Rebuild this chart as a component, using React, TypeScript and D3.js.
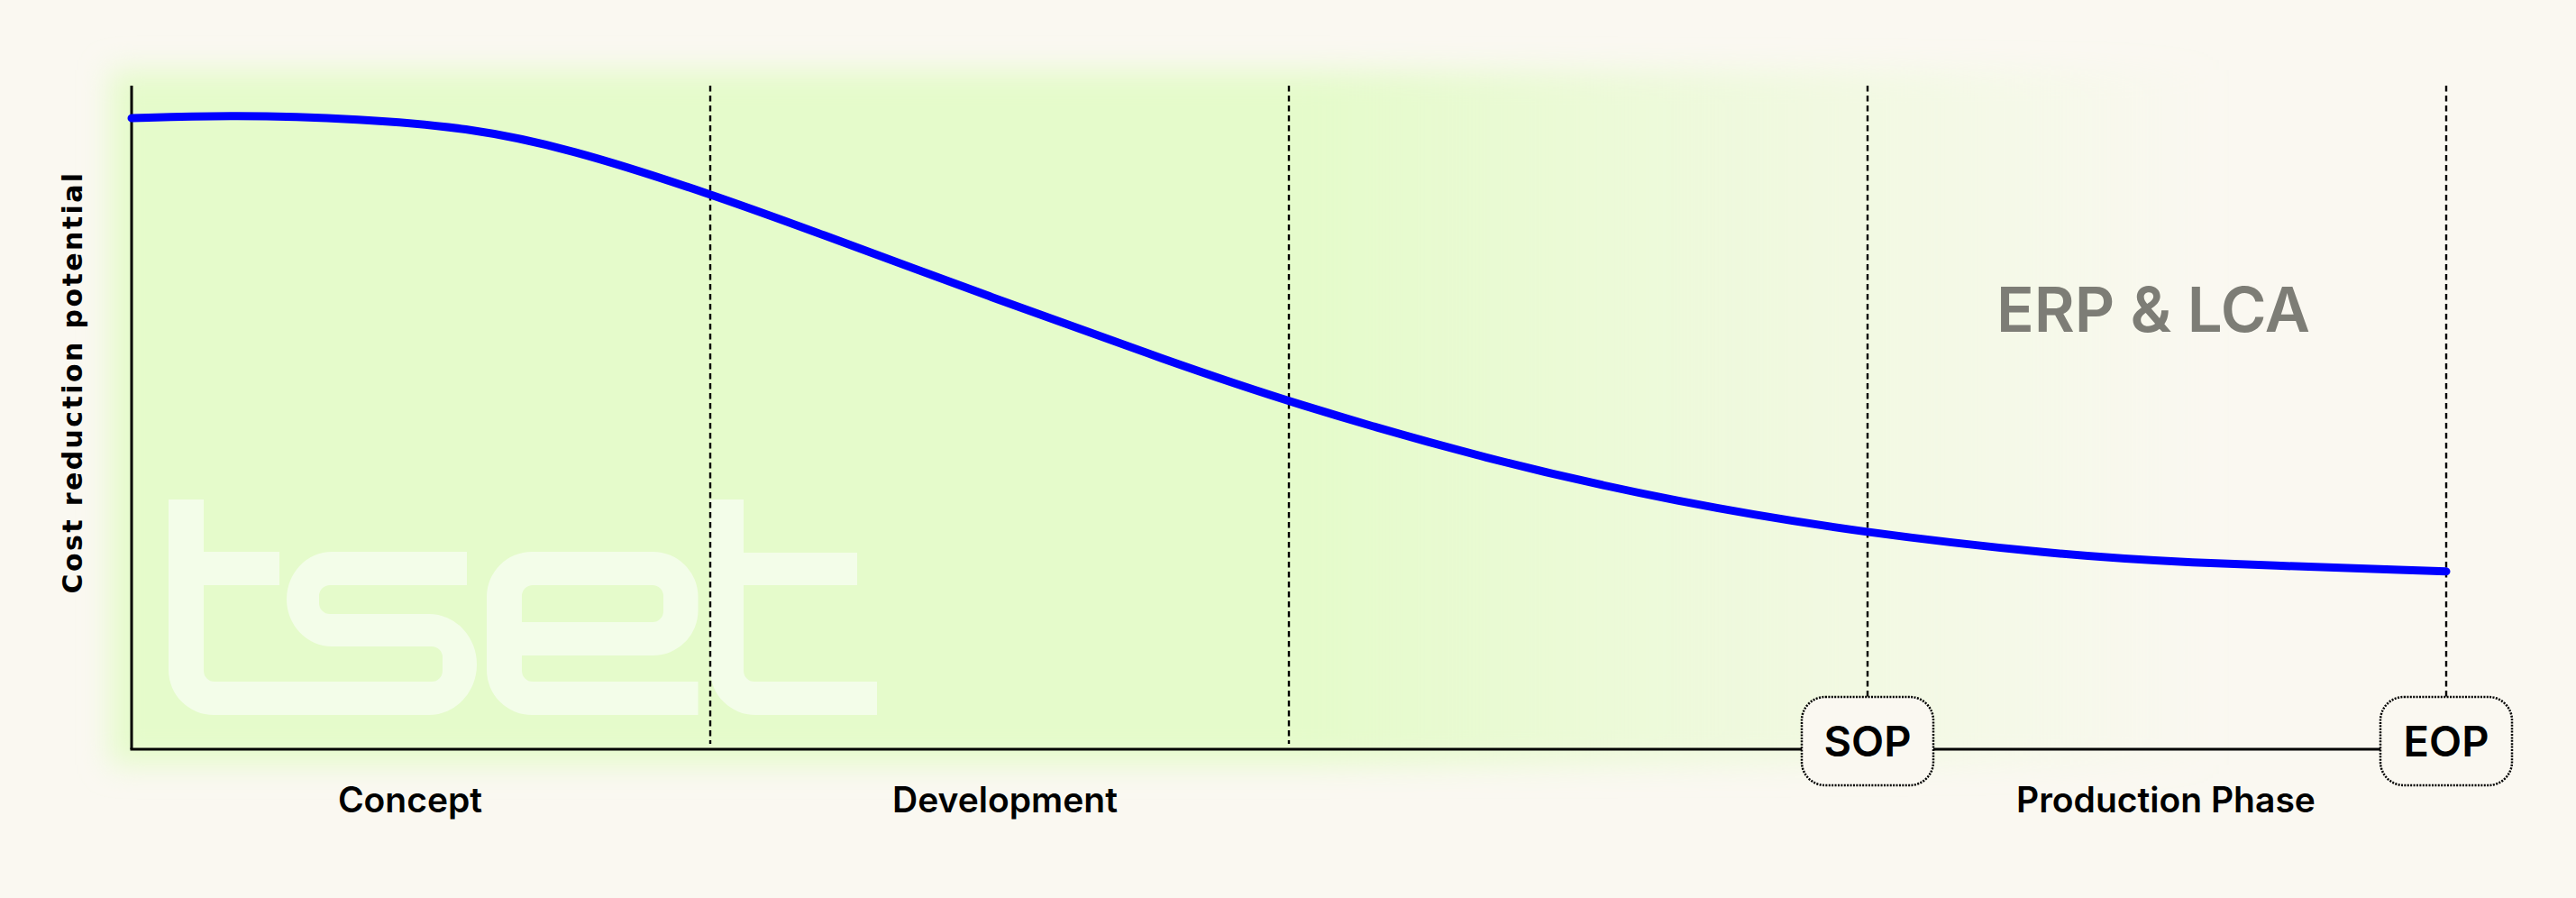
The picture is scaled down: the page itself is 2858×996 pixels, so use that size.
import * as d3 from "d3"

// stage boundaries along the x axis (0 = start of concept, 4 = end of production)
const phaseNames = ["Concept", "Development", "Production Phase"]
const phaseStart = [0, 1, 3]
const phaseNudge = [-12, 6, 10]
const milestoneAt = [1, 2, 3, 4]
const milestoneLabels = ["", "", "SOP", "EOP"]

// cost reduction potential curve (0..100 of the y axis)
const curveX = [0, 0.174, 0.399, 0.578, 0.755, 1.0, 1.174, 1.486, 1.798, 2.0, 2.344, 2.671, 3.0, 3.327, 3.511, 4.0]
const curveY = [95.1, 95.6, 95.0, 93.7, 90.6, 83.7, 78.2, 68.1, 58.3, 52.3, 43.6, 37.2, 32.5, 29.4, 28.2, 26.8]

const W = 2858
const H = 996
const FONT = "Inter, 'Noto Sans', sans-serif"
const BG = "#faf8f1"
const GREEN = "#e5fbcb"

const App = () => {
  const x = d3.scaleLinear().domain([0, 4]).range([146, 2714])
  const y = d3.scaleLinear().domain([0, 100]).range([831, 95])

  const pts = curveX.map((d, i) => ({ x: d, y: curveY[i] }))
  const line = d3
    .line<{ x: number; y: number }>()
    .x((d) => x(d.x))
    .y((d) => y(d.y))
    .curve(d3.curveBasis)

  const boxW = 146
  const boxH = 98
  const boxCy = 822

  return (
    <svg
      width={W}
      height={H}
      style={{ position: "absolute", left: 0, top: 0, display: "block" }}
    >
      <defs>
        <linearGradient id="glow" x1="0" x2="1" y1="0" y2="0">
          <stop offset="0" stopColor={GREEN} stopOpacity={1} />
          <stop offset="0.57" stopColor={GREEN} stopOpacity={1} />
          <stop offset="0.8" stopColor={GREEN} stopOpacity={0.45} />
          <stop offset="1" stopColor={GREEN} stopOpacity={0} />
        </linearGradient>
        <filter id="blur" x="-5%" y="-10%" width="110%" height="120%">
          <feGaussianBlur stdDeviation="16" />
        </filter>
      </defs>
      <rect width={W} height={H} fill={BG} />
      <rect x={122} y={78} width={2340} height={770} fill="url(#glow)" filter="url(#blur)" />

      {/* tset watermark */}
      <g fill="#f3fde9" fillRule="evenodd">
        <path d="M187,554 H226 V744 A12,12 0 0 0 238,756 H476 V793 H237 A50,50 0 0 1 187,743 Z" />
        <rect x={226} y={612} width={84} height={37} />
        <path d="M518,612 V649 H366 A12,12 0 0 0 354,661 V669 A12,12 0 0 0 366,681 H476 A53,56 0 0 1 529,737 A53,56 0 0 1 476,793 H238 V756 H479 A12,12 0 0 0 491,744 V729 A12,12 0 0 0 479,717 H368 A50,52.5 0 0 1 318,664.5 A50,52.5 0 0 1 368,612 Z" />
        <path d="M590,612 H724.5 A50,50 0 0 1 774.5,662 V677 A50,50 0 0 1 724.5,727 H579 V744 A12,12 0 0 0 591,756 H774.5 V793 H590 A50,50 0 0 1 540,743 V662 A50,50 0 0 1 590,612 Z M591,649 H724 A12,12 0 0 1 736,661 V678 A12,12 0 0 1 724,690 H579 V661 A12,12 0 0 1 591,649 Z" />
        <path d="M788,554 H825 V744 A12,12 0 0 0 837,756 H973 V793 H838 A50,50 0 0 1 788,743 Z" />
        <rect x={825} y={613} width={126} height={36} />
      </g>

      {/* milestone lines */}
      {milestoneAt.map((m, i) => (
        <line
          key={"d" + i}
          x1={x(m)}
          x2={x(m)}
          y1={y(100)}
          y2={milestoneLabels[i] ? boxCy - boxH / 2 : y(0) - 6}
          stroke="#000"
          strokeWidth={2.4}
          strokeDasharray="6.5,4.5"
        />
      ))}

      {/* axes */}
      <line x1={x(0)} x2={x(0)} y1={y(100)} y2={y(0)} stroke="#000" strokeWidth={3} />
      <line x1={x(0) - 1.5} x2={x(4)} y1={y(0)} y2={y(0)} stroke="#000" strokeWidth={3} />

      <path d={line(pts) ?? ""} fill="none" stroke="#0000ff" strokeWidth={9} strokeLinecap="round" />

      {/* milestone boxes */}
      {milestoneAt.map((m, i) =>
        milestoneLabels[i] ? (
          <g key={"b" + i}>
            <rect
              x={x(m) - boxW / 2}
              y={boxCy - boxH / 2}
              width={boxW}
              height={boxH}
              rx={26}
              fill={BG}
              stroke="#000"
              strokeWidth={2.5}
              strokeDasharray="2,1.4"
            />
            <text
              x={x(m)}
              y={boxCy + 17}
              textAnchor="middle"
              fontFamily={FONT}
              fontWeight={600}
              fontSize={47}
              fill="#000"
            >
              {milestoneLabels[i]}
            </text>
          </g>
        ) : null,
      )}

      {phaseNames.map((p, i) => (
        <text
          key={p}
          x={(x(phaseStart[i]) + x(phaseStart[i] + 1)) / 2 + phaseNudge[i]}
          y={901}
          textAnchor="middle"
          fontFamily={FONT}
          fontWeight={600}
          fontSize={39}
          fill="#000"
        >
          {p}
        </text>
      ))}

      <text
        transform="translate(91, 424) rotate(-90)"
        textAnchor="middle"
        fontFamily="'DejaVu Sans', sans-serif"
        fontWeight={700}
        fontSize={30}
        letterSpacing={2.4}
        fill="#000"
      >
        Cost reduction potential
      </text>

      <text
        x={2389}
        y={368}
        textAnchor="middle"
        fontFamily={FONT}
        fontWeight={600}
        fontSize={69}
        fill="#7d7d76"
      >
        ERP &amp; LCA
      </text>
    </svg>
  )
}

export default App
